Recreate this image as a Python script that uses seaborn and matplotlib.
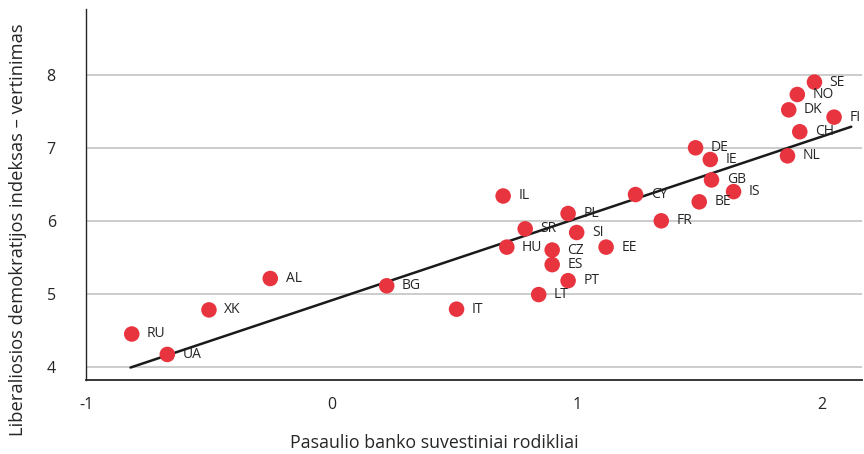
import numpy as np
import pandas as pd
import matplotlib
matplotlib.use("Agg")
import matplotlib.pyplot as plt
import seaborn as sns

countries = ['SE', 'NO', 'DK', 'FI', 'CH', 'NL', 'DE', 'IE', 'GB', 'IS', 'BE', 'CY', 'FR',
             'IL', 'PL', 'SR', 'SI', 'HU', 'CZ', 'EE', 'ES', 'PT', 'LT', 'IT', 'BG', 'AL',
             'XK', 'RU', 'UA']
wb_index = [1.97, 1.90, 1.865, 2.05, 1.91, 1.86, 1.485, 1.545, 1.55, 1.64, 1.50, 1.24, 1.345,
            0.70, 0.965, 0.79, 1.00, 0.715, 0.90, 1.12, 0.90, 0.965, 0.845, 0.51, 0.225, -0.25,
            -0.50, -0.815, -0.67]
ldi_score = [7.90, 7.73, 7.52, 7.42, 7.22, 6.89, 7.00, 6.84, 6.56, 6.40, 6.26, 6.36, 6.00,
             6.34, 6.10, 5.89, 5.84, 5.64, 5.60, 5.64, 5.40, 5.18, 4.99, 4.79, 5.11, 5.21,
             4.78, 4.45, 4.17]
trend_range = [-0.82, 2.12]

df = pd.DataFrame({'country': countries, 'x': wb_index, 'y': ldi_score})

sns.set_theme(style="white")
plt.rcParams['font.family'] = ['Open Sans', 'DejaVu Sans']

fig, ax = plt.subplots(figsize=(8.64, 4.54), dpi=100)
fig.subplots_adjust(left=0.1, right=0.998, top=0.98, bottom=0.163)

for yv in [4, 5, 6, 7, 8]:
    ax.axhline(yv, color='#bfbfbf', lw=1.1, zorder=0)

# trend line (least squares fit on the points)
slope, icpt = np.polyfit(df['x'], df['y'], 1)
tx = np.array(trend_range)
ax.plot(tx, slope * tx + icpt, color='#1a1a1a', lw=1.8, zorder=2)

sns.scatterplot(data=df, x='x', y='y', ax=ax, s=125, color='#e8343f',
                edgecolor='none', zorder=3)

for _, r in df.iterrows():
    ax.annotate(r['country'], (r['x'], r['y']), xytext=(11, 0), textcoords='offset points',
                fontsize=10, color='#262626', va='center', zorder=4)

ax.set_xlim(-1.0, 2.165)
ax.set_ylim(3.82, 8.9)
ax.set_xticks([-1, 0, 1, 2])
ax.set_xticklabels(['-1', '0', '1', '2'])
ax.set_yticks([4, 5, 6, 7, 8])
ax.tick_params(axis='both', labelsize=11.5, colors='#262626', length=0, pad=12)
ax.tick_params(axis='y', pad=22)

for side in ['top', 'right']:
    ax.spines[side].set_visible(False)
ax.spines['left'].set_color('#262626')
ax.spines['bottom'].set_color('#262626')
ax.spines['left'].set_linewidth(1.0)
ax.spines['bottom'].set_linewidth(1.3)

ax.set_xlabel('Pasaulio banko suvestiniai rodikliai', fontsize=12.8, color='#262626', labelpad=14)
ax.xaxis.set_label_coords(0.448, -0.145)
ax.set_ylabel('Liberaliosios demokratijos indeksas \u2013 vertinimas', fontsize=13.2,
              color='#262626')
ax.yaxis.set_label_coords(-0.077, 0.405)

fig.savefig('out.png', dpi=100)
